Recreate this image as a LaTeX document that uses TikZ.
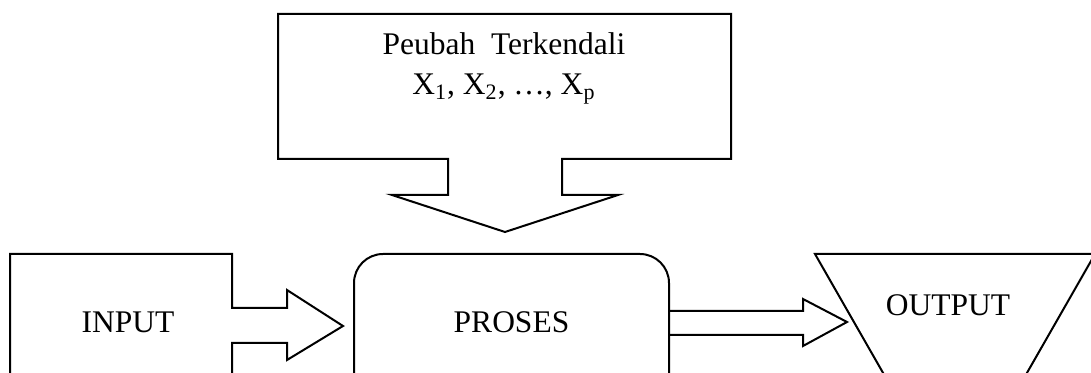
\documentclass[tikz,border=0pt]{standalone}
\usepackage{fontspec}
\setmainfont{Liberation Serif}
\begin{document}
\begin{tikzpicture}[x=0.5pt,y=-0.5pt,
  outline/.style={draw=black,line width=1pt,line join=miter,fill=none},
  label/.style={inner sep=0pt,anchor=base,font=\fontsize{15.75}{20}\selectfont}]
\clip (0,0) rectangle (1091,373);
\fill[white] (0,0) rectangle (1091,373);

% control variables: box with a downward block arrow
\coordinate (ctl-nw) at (278,14);
\coordinate (ctl-se) at (731,159);
\coordinate (ctl-tip) at (505,232);
\draw[outline] (ctl-nw) -- (ctl-se |- ctl-nw) -- (ctl-se)
  -- (562,159) -- (562,195) -- (618,195) -- (ctl-tip) -- (392,195)
  -- (448,195) -- (448,159) -- (ctl-nw |- ctl-se) -- cycle;
\node[label] (ctl1) at (504,55) {Peubah~~Terkendali};
\node[label] (ctl2) at (504,95) {X\textsubscript{1}, X\textsubscript{2}, …, X\textsubscript{p}};

% input: box with a right block arrow
\coordinate (in-nw) at (10,254);
\coordinate (in-tip) at (343,326);
\draw[outline] (10,420) -- (in-nw) -- (232,254) -- (232,308) -- (287,308)
  -- (287,290) -- (in-tip) -- (287,360) -- (287,343) -- (232,343) -- (232,420);
\node[label] (input) at (128,333) {INPUT};

% process box
\draw[outline,rounded corners=14.5pt] (354,420) -- (354,254) -- (669,254) -- (669,420);
\coordinate (proc-e) at (669,323);
\node[label] (proses) at (511.5,333) {PROSES};

% arrow from process to output
\coordinate (out-tip) at (847,322);
\draw[outline] (669,311) -- (803,311) -- (803,299) -- (out-tip)
  -- (803,346) -- (803,335) -- (669,335);

% output trapezoid
\draw[outline] (815,254) -- (1095,254) -- (1000,420) -- (910,420) -- cycle;
\node[label] (output) at (948,315) {OUTPUT};
\end{tikzpicture}
\end{document}
